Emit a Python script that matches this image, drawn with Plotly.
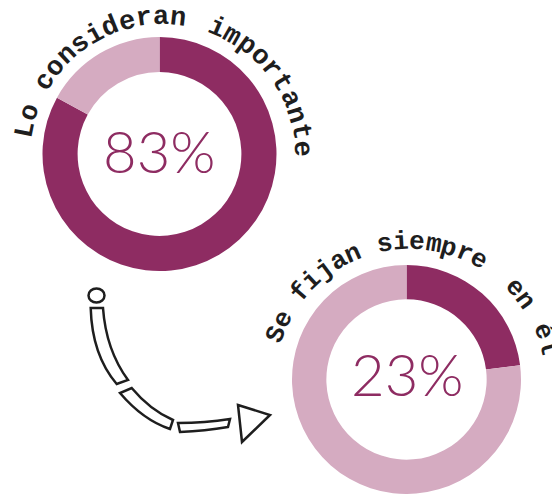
import math
import plotly.graph_objects as go

W, H = 552, 494

# ---- data ----
slice_labels = ["Sí", "No"]
pct_important = [83, 17]
pct_always = [23, 77]
titles = ["Lo consideran importante", "Se fijan siempre en él"]
center_labels = ["83%", "23%"]

DARK = "#8e2c62"
LIGHT = "#d5abc1"
INK = "#1e1e1e"


def P(x, y):
    """pixel (top-left origin) -> paper coords"""
    return x / W, 1 - y / H


fig = go.Figure()
fig.add_trace(go.Pie(
    values=pct_important, labels=slice_labels, hole=0.70, sort=False,
    direction="clockwise", rotation=0,
    marker=dict(colors=[DARK, LIGHT], line=dict(width=0)),
    textinfo="none", hoverinfo="label+percent", showlegend=False,
    domain=dict(x=[42.5 / W, 276.5 / W], y=[1 - 271 / H, 1 - 37 / H]),
))
fig.add_trace(go.Pie(
    values=pct_always, labels=slice_labels, hole=0.70, sort=False,
    direction="clockwise", rotation=0,
    marker=dict(colors=[DARK, LIGHT], line=dict(width=0)),
    textinfo="none", hoverinfo="label+percent", showlegend=False,
    domain=dict(x=[292 / W, 521 / W], y=[0, 229 / H]),
))

annotations = []


def arc_text(title, cx, cy, r, starts, step, size):
    words = title.split(" ")
    for word, a0 in zip(words, starts):
        for i, ch in enumerate(word):
            th = a0 - step * i
            x = cx + r * math.cos(math.radians(th))
            y = cy - r * math.sin(math.radians(th))
            px_, py_ = P(x, y)
            annotations.append(dict(
                x=px_, y=py_, xref="paper", yref="paper", text=ch,
                showarrow=False, textangle=90 - th,
                xanchor="center", yanchor="middle",
                font=dict(family="Liberation Mono", size=size, color=INK, weight="bold"),
            ))


arc_text(titles[0], 162.5, 157, 140, [168.7, 147.4, 67.3], 7.1, 27)
arc_text(titles[1], 410, 385, 143, [159.0, 139.5, 100.0, 42.7, 22.0], 6.5, 26)

for lab, (cx, cy) in zip(center_labels, [(159, 151), (407, 373)]):
    x, y = P(cx, cy)
    annotations.append(dict(
        x=x, y=y, xref="paper", yref="paper", text=lab, showarrow=False,
        xanchor="center", yanchor="middle",
        font=dict(family="Lato", size=58, color=DARK, weight=300),
    ))

# ---- hand-drawn arrow (decoration) ----
def path(cmds):
    out = []
    for c in cmds:
        if isinstance(c, str):
            out.append(c)
        else:
            x, y = P(*c)
            out.append(f"{x:.5f},{y:.5f}")
    return " ".join(out)

line = dict(color=INK, width=2.5)
shapes = []
shapes.append(dict(type="circle", xref="paper", yref="paper",
                   x0=(96.5 - 8) / W, x1=(96.5 + 8) / W,
                   y0=1 - (295.5 + 7) / H, y1=1 - (295.5 - 7) / H,
                   line=line, fillcolor="white"))
seg1 = path(["M", (90.7, 308), "Q", (92, 355), (116.7, 384), "L", (128, 380),
             "Q", (106, 350), (103, 308), "Z"])
seg2 = path(["M", (120, 393), "Q", (143, 420), (170, 429), "L", (173, 420),
             "Q", (150, 410), (131.7, 388), "Z"])
seg3 = path(["M", (178, 423), "L", (180, 432), "Q", (205, 431), (228, 427),
             "L", (230, 419), "Q", (205, 423), (178, 423), "Z"])
tri = path(["M", (238, 405), "L", (270, 415), "L", (242, 442), "Z"])
for p in (seg1, seg2, seg3, tri):
    shapes.append(dict(type="path", xref="paper", yref="paper", path=p,
                       line=line, fillcolor="white"))

fig.update_layout(
    width=W, height=H, autosize=False,
    margin=dict(l=0, r=0, t=0, b=0),
    paper_bgcolor="white", plot_bgcolor="white",
    annotations=annotations, shapes=shapes,
)

fig.write_html("out.html")
